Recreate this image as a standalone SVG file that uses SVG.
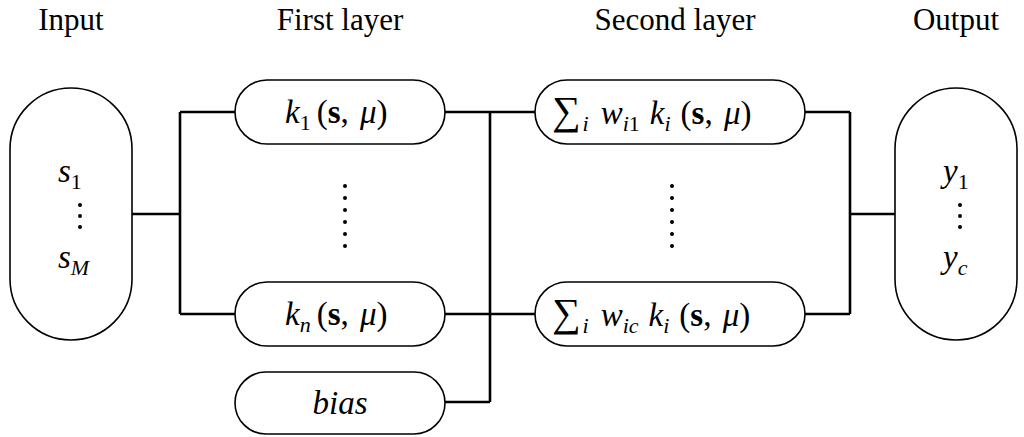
<svg xmlns="http://www.w3.org/2000/svg" width="1024" height="437" viewBox="0 0 1024 437" font-family="'Liberation Serif','Times New Roman','DejaVu Serif','Noto Serif',serif">
<style>
.n{fill:#fff;stroke:#000;stroke-width:1.6}
.c{fill:none;stroke:#000;stroke-width:2.6}
text{font-family:'Liberation Serif','Times New Roman','DejaVu Serif','Noto Serif',serif;fill:#000}
.t{font-size:31px;text-anchor:middle}
.m{font-size:33px}
.i{font-style:italic}
.s{font-size:22px}
.d{fill:#000}
</style>
<rect width="1024" height="437" fill="#fff"/>
<text class="t" x="71" y="30">Input</text>
<text class="t" x="340" y="30">First layer</text>
<text class="t" x="675" y="30">Second layer</text>
<text class="t" x="956" y="30">Output</text>
<g id="connectors">
<path class="c" d="M132 214H180M180 112V314M180 112H235M180 314H235M445 112H535M445 314H535M445 402H490M490 112V402M805 112H850M805 314H850M850 112V314M850 214H895"/>
</g>
<g id="input">
<rect class="n" x="10" y="88" width="122" height="252" rx="61"/>
<text class="m" x="58" y="182"><tspan class="i">s</tspan><tspan class="s" dy="7">1</tspan></text>
<g class="d"><circle cx="80" cy="205" r="2"/><circle cx="80" cy="216" r="2"/><circle cx="80" cy="227" r="2"/></g>
<text class="m" x="58" y="268"><tspan class="i">s</tspan><tspan class="s i" dy="7">M</tspan></text>
</g>
<g id="k1">
<rect class="n" x="235" y="80" width="210" height="64" rx="32"/>
<text class="m" x="285" y="123"><tspan class="i">k</tspan><tspan class="s" dy="7">1</tspan><tspan dy="-7" dx="6">(</tspan><tspan font-weight="bold">s</tspan>, <tspan class="i" dx="3">μ</tspan>)</text>
</g>
<g id="dots1" class="d"><circle cx="345" cy="186" r="2"/><circle cx="345" cy="198" r="2"/><circle cx="345" cy="210" r="2"/><circle cx="345" cy="222" r="2"/><circle cx="345" cy="234" r="2"/><circle cx="345" cy="246" r="2"/></g>
<g id="kn">
<rect class="n" x="235" y="282" width="210" height="64" rx="32"/>
<text class="m" x="285" y="325"><tspan class="i">k</tspan><tspan class="s i" dy="7">n</tspan><tspan dy="-7" dx="6">(</tspan><tspan font-weight="bold">s</tspan>, <tspan class="i" dx="3">μ</tspan>)</text>
</g>
<g id="bias">
<rect class="n" x="235" y="372" width="210" height="62" rx="31"/>
<text class="m i" x="340" y="414" text-anchor="middle">bias</text>
</g>
<g id="w1">
<rect class="n" x="535" y="80" width="270" height="64" rx="32"/>
<text class="m" x="552" y="124"><tspan font-size="40">∑</tspan><tspan class="s i" dy="7" dx="2">i</tspan><tspan class="i" dy="-7" dx="12">w</tspan><tspan class="s" dy="7"><tspan class="i">i</tspan>1</tspan><tspan class="i" dy="-7" dx="10">k</tspan><tspan class="s i" dy="7">i</tspan><tspan dy="-7" dx="10">(</tspan><tspan font-weight="bold">s</tspan>, <tspan class="i" dx="3">μ</tspan>)</text>
</g>
<g id="dots2" class="d"><circle cx="672" cy="186" r="2"/><circle cx="672" cy="198" r="2"/><circle cx="672" cy="210" r="2"/><circle cx="672" cy="222" r="2"/><circle cx="672" cy="234" r="2"/><circle cx="672" cy="246" r="2"/></g>
<g id="wc">
<rect class="n" x="535" y="282" width="270" height="64" rx="32"/>
<text class="m" x="552" y="326"><tspan font-size="40">∑</tspan><tspan class="s i" dy="7" dx="2">i</tspan><tspan class="i" dy="-7" dx="12">w</tspan><tspan class="s i" dy="7">ic</tspan><tspan class="i" dy="-7" dx="10">k</tspan><tspan class="s i" dy="7">i</tspan><tspan dy="-7" dx="10">(</tspan><tspan font-weight="bold">s</tspan>, <tspan class="i" dx="3">μ</tspan>)</text>
</g>
<g id="output">
<rect class="n" x="895" y="88" width="122" height="252" rx="61"/>
<text class="m" x="943" y="182"><tspan class="i">y</tspan><tspan class="s" dy="7">1</tspan></text>
<g class="d"><circle cx="960" cy="205" r="2"/><circle cx="960" cy="216" r="2"/><circle cx="960" cy="227" r="2"/></g>
<text class="m" x="943" y="268"><tspan class="i">y</tspan><tspan class="s i" dy="7">c</tspan></text>
</g>
</svg>
